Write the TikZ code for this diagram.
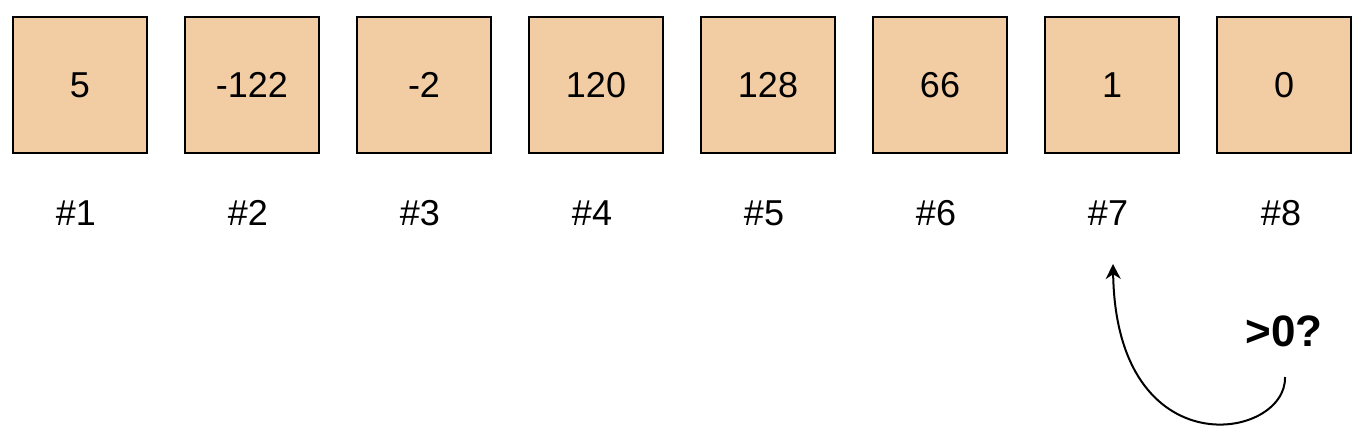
\documentclass[tikz,border=0pt]{standalone}
\usepackage{fontspec}
\setmainfont{Liberation Sans}
\usepackage{tikz}
\usetikzlibrary{arrows.meta}
\definecolor{cellfill}{HTML}{F2CDA4}

\begin{document}
\begin{tikzpicture}
		[x=1pt,y=-1pt,
		c/.style={font=\fontsize{36}{40}\selectfont,minimum width=134pt,minimum height=136pt,line width=2pt,draw=black,fill=cellfill,inner sep=0pt},
		idx/.style={font=\fontsize{36}{40}\selectfont,inner sep=0pt}]

		\useasboundingbox (0,0) rectangle (1368,438);

		\node[c] (c1) at (80,85) {5};
		\node[c] (c2) at (252,85) {-122};
		\node[c] (c3) at (424,85) {-2};
		\node[c] (c4) at (596,85) {120};
		\node[c] (c5) at (768,85) {128};
		\node[c] (c6) at (940,85) {66};
		\node[c] (c7) at (1112,85) {1};
		\node[c] (c8) at (1284,85) {0};

		\node[idx] (i1) at (76,213) {\#1};
		\node[idx] (i2) at (248,213) {\#2};
		\node[idx] (i3) at (420,213) {\#3};
		\node[idx] (i4) at (592,213) {\#4};
		\node[idx] (i5) at (764,213) {\#5};
		\node[idx] (i6) at (936,213) {\#6};
		\node[idx] (i7) at (1108,213) {\#7};
		\node[idx] (i8) at (1281,213) {\#8};

		\node[font=\bfseries\fontsize{44}{48}\selectfont,inner sep=0pt] (test) at (1284,331) {>0?};

		\coordinate (from) at (1285,377);
		\coordinate (to) at (1113,264);
		\draw[line width=2pt,-{Stealth[length=15pt,width=15pt]}] (from)
			.. controls (1287,440) and (1116,470) .. (to);
\end{tikzpicture}
\end{document}
